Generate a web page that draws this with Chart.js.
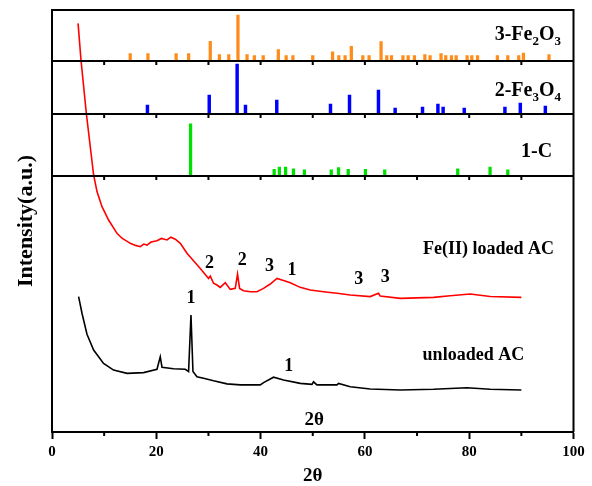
<!DOCTYPE html>
<html>
<head>
<meta charset="utf-8">
<script src="https://cdn.jsdelivr.net/npm/chart.js@4.4.0/dist/chart.umd.min.js"></script>
<style>
  html, body { margin: 0; padding: 0; background: #fff; }
  #wrap { width: 592px; height: 486px; }
</style>
</head>
<body>
<div id="wrap"><canvas id="xrdChart" width="592" height="486"></canvas></div>
<script>
// reference stick patterns (2theta, relative intensity %)
const fe2o3Pos = [15.0, 18.4, 23.8, 26.2, 30.35, 32.1, 33.9, 35.66, 37.4, 38.8, 40.5, 43.4, 44.9, 46.2,
  50.0, 53.8, 55.0, 56.2, 57.4, 59.6, 60.8, 63.1, 64.2, 65.1, 67.3, 68.3, 69.5, 71.5, 72.5, 74.6,
  75.5, 76.6, 77.5, 79.6, 80.5, 81.6, 85.4, 87.4, 89.5, 90.4, 95.3];
const fe2o3Int = [16, 16, 16, 16, 43, 14, 14, 100, 14, 12, 12, 25, 12, 12,
  12, 20, 12, 12, 32, 12, 12, 42, 12, 12, 12, 12, 12, 14, 12, 16,
  12, 12, 12, 12, 12, 12, 12, 12, 12, 17, 14];

const fe3o4Pos = [18.3, 30.15, 35.5, 37.1, 43.1, 53.4, 57.05, 62.6, 65.8, 71.05, 74.0, 75.0, 79.05, 86.85, 89.8, 94.6];
const fe3o4Int = [18, 38, 100, 18, 28, 20, 38, 48, 12, 14, 20, 14, 12, 14, 22, 16];

const carbonPos = [26.57, 42.6, 43.6, 44.8, 46.3, 48.4, 53.55, 54.95, 56.8, 60.1, 63.8, 77.8, 84.0, 87.4];
const carbonInt = [100, 13, 17, 17, 14, 12, 12, 16, 13, 13, 12, 14, 17, 12];

// measured patterns
const loadedX = [5.0, 5.56, 6.58, 7.98, 8.63, 9.59, 10.85, 12.46, 13.42, 15.01, 16.0, 16.93, 17.6, 18.21,
  19.0, 20.13, 21.0, 22.05, 22.8, 23.64, 24.6, 25.88, 28.43, 30.02, 30.35, 30.98, 31.63, 32.26, 33.23,
  34.18, 35.14, 35.58, 35.97, 36.73, 38.02, 39.3, 40.57, 41.85, 43.14, 44.1, 45.69, 47.6, 49.52,
  52.07, 54.64, 57.19, 61.02, 62.62, 62.94, 66.77, 73.16, 76.36, 80.19, 84.03, 90.0];
const loadedY = [159.6, 145.3, 124.5, 100.4, 93.9, 88.0, 82.8, 77.6, 75.7, 73.7, 72.9, 72.4, 73.4, 73.0,
  74.2, 74.7, 75.6, 75.0, 76.1, 75.3, 73.7, 69.8, 63.9, 60.0, 60.9, 58.1, 57.4, 56.5, 58.3,
  55.7, 56.1, 61.7, 56.1, 55.2, 54.8, 54.8, 56.1, 57.8, 60.0, 59.4, 58.3, 56.5, 55.5,
  54.8, 54.2, 53.5, 52.9, 54.2, 53.1, 52.2, 52.6, 53.2, 53.9, 52.9, 52.6];

const unloadedX = [5.1, 5.75, 6.71, 7.98, 9.89, 11.81, 14.38, 17.56, 20.13, 20.76, 21.09, 23.31, 25.56,
  26.19, 26.65, 27.03, 27.8, 29.06, 30.98, 33.55, 36.1, 39.93, 40.57, 42.48, 44.4, 47.6, 49.85,
  50.15, 50.8, 54.64, 54.95, 57.19, 61.02, 66.77, 73.16, 79.56, 84.03, 90.0];
const unloadedY = [52.9, 46.4, 38.2, 32.0, 26.8, 24.2, 22.9, 23.2, 24.5, 29.4, 25.3, 24.7, 24.5,
  23.6, 45.7, 23.6, 21.6, 21.0, 20.0, 18.8, 18.4, 18.4, 19.3, 21.4, 20.3, 19.0, 18.6,
  19.6, 18.4, 18.4, 19.0, 17.7, 16.8, 16.4, 16.7, 17.3, 16.7, 16.4];

const xTicks = [0, 20, 40, 60, 80, 100];
const xMinorTicks = [10, 30, 50, 70, 90];
const panelTicks = [10, 20, 30, 40, 50, 60, 70, 80, 90];

// text on the main panel (2theta, main-axis units)
const peakMarks = [
  { text: '2', x: 30.2, y: 65.9 }, { text: '2', x: 36.5, y: 67.2 }, { text: '3', x: 41.7, y: 64.6 },
  { text: '1', x: 46.0, y: 63.3 }, { text: '3', x: 58.8, y: 59.6 }, { text: '3', x: 63.9, y: 60.4 },
  { text: 'Fe(II) loaded AC', x: 83.7, y: 71.4 },
  { text: '1', x: 26.65, y: 52.2 }, { text: '1', x: 45.4, y: 25.8 },
  { text: 'unloaded AC', x: 80.8, y: 30.1 },
  { text: '2θ', x: 50.3, y: 4.7 }
];
const panelLabels = [
  { axis: 'yFe2O3', x: 97.6, y: 45.7, parts: [['3-Fe', 0], ['2', 1], ['O', 0], ['3', 1]] },
  { axis: 'yFe3O4', x: 97.6, y: 36, parts: [['2-Fe', 0], ['3', 1], ['O', 0], ['4', 1]] },
  { axis: 'yC', x: 95.9, y: 36.5, parts: [['1-C', 0]] }
];

const serif = "'Liberation Serif', 'Times New Roman', serif";

function pts(xs, ys) {
  return xs.map((x, i) => ({ x: x, y: ys[i] }));
}

const noWidth = s => { s.width = 0; };

function stackAxis(weight, max) {
  return {
    type: 'linear', position: 'left', stack: 'xrd', stackWeight: weight,
    min: 0, max: max,
    grid: { drawOnChartArea: false, drawTicks: false },
    ticks: { display: false },
    border: { color: '#000', width: 2 },
    afterFit: noWidth
  };
}

const framePlugin = {
  id: 'frame',
  afterDraw(chart) {
    const ctx = chart.ctx;
    const area = chart.chartArea;
    const x = chart.scales.x;
    ctx.save();
    ctx.strokeStyle = '#000';
    ctx.lineWidth = 2;
    ctx.beginPath();
    ctx.moveTo(area.left - 1, area.top);
    ctx.lineTo(area.right, area.top);
    ctx.lineTo(area.right, area.bottom);
    ctx.stroke();

    // panel separators with their ticks
    ['yFe2O3', 'yFe3O4', 'yC'].forEach(id => {
      const b = chart.scales[id].bottom;
      ctx.beginPath();
      ctx.moveTo(area.left, b);
      ctx.lineTo(area.right, b);
      panelTicks.forEach(v => {
        const px = x.getPixelForValue(v);
        ctx.moveTo(px, b);
        ctx.lineTo(px, b + 4);
      });
      ctx.stroke();
    });

    // minor ticks on the bottom axis
    ctx.beginPath();
    xMinorTicks.forEach(v => {
      const px = x.getPixelForValue(v);
      ctx.moveTo(px, area.bottom);
      ctx.lineTo(px, area.bottom + 4);
    });
    ctx.stroke();

    // labels in the main panel
    const yMain = chart.scales.yMain;
    ctx.fillStyle = '#000';
    ctx.textAlign = 'center';
    ctx.textBaseline = 'middle';
    peakMarks.forEach(m => {
      ctx.font = (m.text === '2θ' ? 'bold 19px ' : 'bold 18px ') + serif;
      ctx.fillText(m.text, x.getPixelForValue(m.x), yMain.getPixelForValue(m.y));
    });

    // phase labels with subscripts
    ctx.textAlign = 'left';
    ctx.textBaseline = 'alphabetic';
    panelLabels.forEach(l => {
      const big = 'bold 20px ' + serif, small = 'bold 13px ' + serif;
      let w = 0;
      l.parts.forEach(p => { ctx.font = p[1] ? small : big; w += ctx.measureText(p[0]).width; });
      let px = x.getPixelForValue(l.x) - w;
      const py = chart.scales[l.axis].getPixelForValue(l.y);
      l.parts.forEach(p => {
        ctx.font = p[1] ? small : big;
        ctx.fillText(p[0], px, p[1] ? py + 5 : py);
        px += ctx.measureText(p[0]).width;
      });
    });

    // y title
    ctx.translate(26, (area.top + area.bottom) / 2);
    ctx.rotate(-Math.PI / 2);
    ctx.textAlign = 'center';
    ctx.textBaseline = 'middle';
    ctx.font = 'bold 22px ' + serif;
    ctx.fillText('Intensity(a.u.)', 0, 0);
    ctx.restore();
  }
};

const ctx = document.getElementById('xrdChart').getContext('2d');
new Chart(ctx, {
  data: {
    datasets: [
      {
        type: 'line', label: 'Fe(II) loaded AC', data: pts(loadedX, loadedY), yAxisID: 'yMain',
        borderColor: '#ff0000', borderWidth: 1.6, pointRadius: 0, tension: 0, clip: false
      },
      {
        type: 'line', label: 'unloaded AC', data: pts(unloadedX, unloadedY), yAxisID: 'yMain',
        borderColor: '#000000', borderWidth: 1.6, pointRadius: 0, tension: 0
      },
      {
        type: 'bar', label: '3-Fe2O3', data: pts(fe2o3Pos, fe2o3Int), yAxisID: 'yFe2O3',
        backgroundColor: '#ff8c1a', barThickness: 2.6, grouped: false
      },
      {
        type: 'bar', label: '2-Fe3O4', data: pts(fe3o4Pos, fe3o4Int), yAxisID: 'yFe3O4',
        backgroundColor: '#0000ff', barThickness: 2.8, grouped: false
      },
      {
        type: 'bar', label: '1-C', data: pts(carbonPos, carbonInt), yAxisID: 'yC',
        backgroundColor: '#00e000', barThickness: 2.6, grouped: false
      }
    ]
  },
  options: {
    responsive: false,
    animation: false,
    layout: { padding: { left: 52, right: 18.5, top: 10, bottom: 0 } },
    plugins: { legend: { display: false }, tooltip: { enabled: false } },
    scales: {
      x: {
        type: 'linear', position: 'bottom', min: 0, max: 100, offset: false,
        afterBuildTicks: s => { s.ticks = xTicks.map(v => ({ value: v })); },
        grid: { offset: false, drawOnChartArea: false, tickLength: 7, tickWidth: 2, tickColor: '#000' },
        border: { color: '#000', width: 2 },
        ticks: { color: '#000', font: { family: serif, size: 15, weight: 'bold' }, padding: 4, maxRotation: 0 },
        title: {
          display: true, text: '2θ', color: '#000',
          font: { family: serif, size: 19, weight: 'bold', lineHeight: 1 },
          padding: { top: 0, bottom: 0 }
        },
        afterFit: s => { s.height = 54; }
      },
      // stacked scales are laid out bottom-up in this order
      yMain: stackAxis(256, 100),
      yC: stackAxis(62, 119),
      yFe3O4: stackAxis(53, 106),
      yFe2O3: stackAxis(51, 111)
    }
  },
  plugins: [framePlugin]
});
</script>
</body>
</html>
